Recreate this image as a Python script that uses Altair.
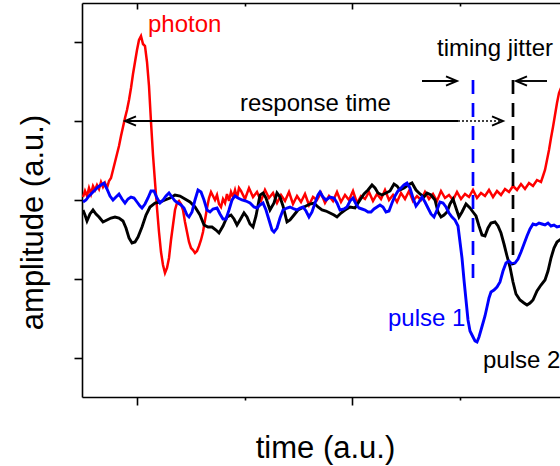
import altair as alt
import pandas as pd

# ---- data (arbitrary units: time t, amplitude a) ----
photon_t = [1, 3, 5, 7, 9, 11, 13, 15, 17, 19, 21, 23, 25, 27, 29, 31, 33, 35, 37, 39, 41, 43, 45, 47, 49, 51, 53, 55,
            57, 59, 61, 63, 65, 67, 69, 71, 73, 75, 77, 79, 81, 83, 85, 87, 89, 91, 93, 95, 97, 99, 101, 103, 105, 107,
            109, 111, 113, 115, 117, 119, 121, 123, 125, 127, 129, 131, 133, 135, 137, 139, 141, 143, 145, 147, 149,
            151, 153, 155, 157,
            159, 163, 167, 171, 175, 179, 183, 187, 191, 195, 199, 203, 207, 211, 215, 219, 223, 227, 231, 235, 239,
            243, 247, 251, 255, 259, 263, 267, 271, 275, 279, 283, 287, 291, 295, 299, 303, 307, 311, 315, 319, 323,
            327, 331, 335, 339, 343, 347, 351, 355, 359, 363, 367, 371, 375, 379, 383, 387, 391, 395, 399, 403, 407,
            411, 415, 419, 423,
            427, 431, 435, 439, 443, 447, 451, 455, 459, 461, 463, 465, 467, 469, 471, 473, 475, 477, 479]
photon_a = [3, 9, 4, 12, 6, 14, 10, 15, 11, 18, 13, 17, 12, 19, 22, 30, 38, 46, 54, 64, 73, 82, 90, 100, 112, 126, 138,
            150, 160, 164, 156, 154, 138, 114, 78, 45, 18, -8, -32, -52, -65, -73, -68, -58, -40, -25, -10, -3, -1, -4,
            -10, -22, -32, -42, -48, -50, -53, -51, -46, -40, -32, -20, -8, 2, 8, 4, 0, 5, -4, -7, 1, -3, 6, -1, 8, 3,
            10, 2, 12,
            9, 1, 12, 3, 8, -1, 10, 2, 7, -3, 5, -1, 8, -4, 4, -2, 6, -5, 3, 0, 7, -3, 4, -1, 8, -2, 5, 0, 9, -3, 4,
            1, 8, -1, 6, 1, 10, 0, 5, -2, 7, 1, 9, -1, 4, 0, 8, 1, 6, -1, 9, 2, 5, 0, 8, 1, 6, 3, 10, 2, 7, 4, 10, 3,
            9, 5, 11,
            8, 14, 10, 16, 11, 17, 14, 20, 18, 24, 30, 40, 50, 62, 73, 85, 97, 107, 112]

pulse2_t = [1, 3, 5, 8, 11, 14, 17, 21, 25, 29, 33, 37, 41, 44, 47, 50, 53, 56, 60, 64, 68, 73, 78, 83, 88, 93, 98,
            103, 108, 113, 118, 122, 126, 130, 134, 137, 141, 145, 149, 152, 155, 158, 162, 165, 168, 171, 174, 178,
            181, 184, 188, 192, 195, 198, 201, 205, 208, 212, 216, 220, 224, 228, 232, 236, 240, 244, 248, 252, 255,
            259, 263, 268, 273, 278, 282, 286, 290, 293, 296, 300, 304, 308, 312, 315, 318, 322, 326, 330, 334, 338,
            342, 345, 349, 353, 356, 359, 362, 365, 368, 371, 374, 377, 380, 384, 388, 391, 394, 397, 400, 403, 406,
            409, 413, 416, 419, 422, 425, 428, 431, 434, 438, 442, 445, 448, 451, 455, 459, 463, 466, 469, 472, 475,
            479]
pulse2_a = [-10, -15, -21, -14, -10, -14, -17, -22, -20, -18, -17, -18, -21, -28, -38, -43, -42, -37, -27, -15, -7, -3,
            -2, 0, 2, 5, 4, 1, -2, -7, -15, -25, -27, -27, -30, -33, -26, -17, -15, -19, -25, -20, -13, -17, -24, -27,
            -16, 5, 7, 2, -10, -3, 7, 3, -6, -22, -20, -15, -10, -8, -6, -4, -3, -7, -10, -11, -13, -15, -17, -13, -10,
            -7, -8, 0, 6, 10, 15, 12, 7, 5, 7, 9, 16, 14, 10, 12, 15, 17, 10, 6, 3, 7, 5, 0, -12, -17, -15, -12, -4, 1,
            -8, -17, -12, -4, -8, -12, -16, -26, -35, -36, -28, -23, -22, -26, -33, -44, -56, -67, -82, -94, -100, -103,
            -105, -103, -100, -91, -85, -80, -71, -58, -48, -42, -39]

pulse1_t = [1, 4, 7, 10, 13, 16, 19, 22, 25, 28, 31, 34, 37, 40, 43, 46, 49, 52, 55, 58, 60, 63, 66, 69, 72, 75, 78,
            81, 84, 87, 90, 93, 96, 99, 102, 105, 107, 110, 113, 116, 119, 122, 125, 128, 131, 135, 138, 141, 144, 147,
            150, 153, 156, 160, 164, 168, 172, 175, 178, 181, 184, 187, 190, 192, 195, 198, 201, 205, 208, 212, 215,
            218, 221, 224, 227, 230, 233, 236, 238, 241, 244, 248, 252, 255, 258, 262, 265, 268, 271, 274, 277, 280,
            283, 286, 289, 292, 295, 298, 301, 304, 307, 310, 313, 316, 319, 322, 325, 328, 331, 334, 337, 340, 343,
            346, 349, 352, 355, 358, 361, 364, 367, 370, 373, 376, 378, 380, 382, 384, 386, 388, 391, 393, 395, 397,
            399, 401, 403, 405, 407, 409, 412, 415, 418, 421, 424, 427, 430, 433, 436, 439, 442, 445, 448, 451, 454,
            457, 460, 463, 466, 469, 472, 475, 479]
pulse1_a = [-2, 0, 4, 7, 10, 13, 15, 17, 11, 4, 0, 3, 6, 1, -3, 1, 3, 2, -2, -6, -8, -4, 2, 9, 9, 2, -3, 0, 4, 7, 3,
            -1, -3, -5, -8, -15, -17, -12, 0, 10, 8, 0, -10, -12, -9, -8, -14, -19, -19, -10, 0, 4, 2, 0, -1, -3, -7,
            -8, -5, -3, -10, -20, -30, -32, -28, -18, -10, -8, -7, -9, -10, -8, -7, -11, -17, -12, -3, 5, 8, 3, 0, 3,
            2, -3, -10, -9, -7, -1, 2, -4, -8, -9, -10, -12, -12, -9, -7, -5, -7, -12, -11, -3, 4, 9, 12, 15, 17, 12,
            2, -6, -2, 3, -2, -8, -14, -17, -10, -2, -3, -7, -13, -17, -20, -26, -42, -58, -80, -100, -120, -131, -137,
            -141, -142, -137, -130, -123, -116, -107, -98, -92, -90, -87, -82, -71, -63, -61, -64, -63, -59, -52, -44,
            -36, -29, -24, -25, -23, -24, -25, -23, -26, -25, -27, -26]

x_major = [55, 270]
x_minor = [163, 378]
y_ticks = [-158, -79, 0, 79, 158]
x_domain = [0, 478]
y_domain = [-197, 197]

labels = ["photon", "response time", "timing jitter", "pulse 1", "pulse 2"]
label_t = [66, 158, 355, 306, 401]
label_a = [168, 89, 144, -126, -168]
label_color = ["#ff0000", "#000000", "#000000", "#0000ff", "#000000"]

marker_t = [391, 431]
marker_top = [120, 120]
marker_bottom = [-80, -65]
marker_color = ["#0000ff", "#000000"]

solid_t1 = [43, 340, 434]
solid_t2 = [376, 375, 465]
solid_a = [79, 119, 119]
dotted_t1 = [376]
dotted_t2 = [421]
dotted_a = [79]
head_left_t = [43, 434]
head_left_a = [79, 119]
head_right_t = [421, 375]
head_right_a = [79, 119]

FONT = "Liberation Sans"

xs = alt.Scale(domain=x_domain, nice=False, zero=False)
ys = alt.Scale(domain=y_domain, nice=False, zero=False)


def ax(**kw):
    base = dict(labels=False, grid=False, title=None, domainColor="black", tickColor="black",
                domainWidth=1.6, tickWidth=1.6)
    base.update(kw)
    return alt.Axis(**base)


red_df = pd.DataFrame({"t": photon_t, "a": photon_a})
blk_df = pd.DataFrame({"t": pulse2_t, "a": pulse2_a})
blu_df = pd.DataFrame({"t": pulse1_t, "a": pulse1_a})

red = alt.Chart(red_df).mark_line(color="#ff0000", strokeWidth=2.5, clip=True).encode(
    x=alt.X("t:Q", scale=xs, axis=ax(orient="bottom", values=x_major, tickSize=8, domain=True,
                                      title="time (a.u.)", titleX=243, titleY=60, titleAlign="center",
                                      titleBaseline="alphabetic", titleFont=FONT, titleFontSize=31,
                                      titleFontWeight="normal", titleColor="black")),
    y=alt.Y("a:Q", scale=ys, axis=ax(orient="left", values=y_ticks, tickSize=8, domain=True,
                                      title="amplitude (a.u.)", titleX=-40, titleY=219, titleAngle=270,
                                      titleAlign="center", titleBaseline="alphabetic", titleFont=FONT,
                                      titleFontSize=31, titleFontWeight="normal", titleColor="black")),
    order="t:Q",
)

blk = alt.Chart(blk_df).mark_line(color="black", strokeWidth=2.9, clip=True).encode(
    x=alt.X("t:Q", scale=xs, axis=ax(orient="bottom", values=x_minor, tickSize=3, domain=False)),
    y=alt.Y("a:Q", scale=ys, axis=None),
    order="t:Q",
)

blu = alt.Chart(blu_df).mark_line(color="#0000ff", strokeWidth=2.9, clip=True).encode(
    x=alt.X("t:Q", scale=xs, axis=ax(orient="top", values=x_major, tickSize=6, offset=-6, domain=False)),
    y=alt.Y("a:Q", scale=ys, axis=None),
    order="t:Q",
)

mk_df = pd.DataFrame({"t": marker_t, "a1": marker_top, "a2": marker_bottom, "c": marker_color})
markers = alt.Chart(mk_df).mark_rule(strokeWidth=2.7, strokeDash=[14, 9]).encode(
    x=alt.X("t:Q", scale=xs, axis=ax(orient="top", ticks=False, domain=True)),
    y=alt.Y("a1:Q", scale=ys, axis=None),
    y2="a2:Q",
    color=alt.Color("c:N", scale=None),
)

sol_df = pd.DataFrame({"t1": solid_t1, "t2": solid_t2, "a": solid_a})
solid = alt.Chart(sol_df).mark_rule(color="black", strokeWidth=1.9).encode(
    x=alt.X("t1:Q", scale=xs, axis=None), x2="t2:Q",
    y=alt.Y("a:Q", scale=ys, axis=None),
)

dot_df = pd.DataFrame({"t1": dotted_t1, "t2": dotted_t2, "a": dotted_a})
dotted = alt.Chart(dot_df).mark_rule(color="black", strokeWidth=1.6, strokeDash=[2, 2]).encode(
    x=alt.X("t1:Q", scale=xs, axis=None), x2="t2:Q",
    y=alt.Y("a:Q", scale=ys, axis=None),
)

hl_df = pd.DataFrame({"t": head_left_t, "a": head_left_a})
head_l = alt.Chart(hl_df).mark_point(shape="M1,-0.42L0,0L1,0.42", size=484, filled=False,
                                     color="black", strokeWidth=1.9, opacity=1).encode(
    x=alt.X("t:Q", scale=xs, axis=None), y=alt.Y("a:Q", scale=ys, axis=None))

hr_df = pd.DataFrame({"t": head_right_t, "a": head_right_a})
head_r = alt.Chart(hr_df).mark_point(shape="M-1,-0.42L0,0L-1,0.42", size=484, filled=False,
                                     color="black", strokeWidth=1.9, opacity=1).encode(
    x=alt.X("t:Q", scale=xs, axis=None), y=alt.Y("a:Q", scale=ys, axis=None))

lab_df = pd.DataFrame({"label": labels, "t": label_t, "a": label_a, "c": label_color})
texts = alt.Chart(lab_df).mark_text(align="left", baseline="alphabetic", font=FONT, fontSize=24).encode(
    x=alt.X("t:Q", scale=xs, axis=ax(orient="top", values=x_minor, tickSize=3, offset=-3, domain=False)),
    y=alt.Y("a:Q", scale=ys, axis=None),
    text="label:N",
    color=alt.Color("c:N", scale=None),
)

chart = alt.layer(red, blk, blu, markers, solid, dotted, head_l, head_r, texts).resolve_axis(
    x="independent", y="independent"
).properties(
    width=478, height=394,
    padding={"left": 82, "top": 3, "right": 0, "bottom": 69},
    autosize=alt.AutoSizeParams(type="none"),
    background="white",
).configure_view(stroke=None)

chart.save("out.html", embed_options={"renderer": "svg", "actions": False})
